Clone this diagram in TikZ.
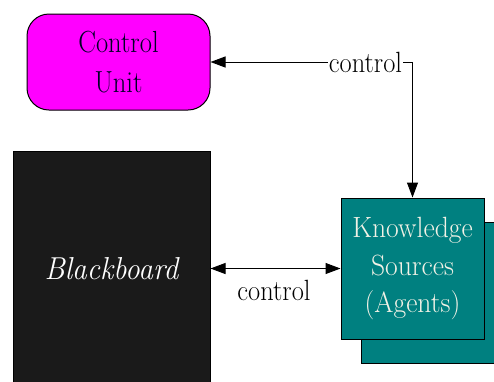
\documentclass[tikz,border=0pt]{standalone}
\usetikzlibrary{arrows.meta}
\definecolor{cumag}{HTML}{FF00FF}
\definecolor{ksteal}{HTML}{008080}
\definecolor{bbdark}{HTML}{1A1A1A}
\definecolor{kstext}{HTML}{F2F2E6}
\newcommand{\tl}[2][1]{\scalebox{#1}[1.22]{#2}}
\tikzset{
  boxline/.style={draw=black, line width=1pt},
  tip/.style={-{Triangle[length=15pt,width=11pt]}},
  dtip/.style={{Triangle[length=15pt,width=11pt]}-{Triangle[length=15pt,width=11pt]}},
  conn/.style={line width=1pt, draw=black},
  lbl/.style={font=\fontsize{24}{28}\selectfont, inner sep=1pt},
}
\begin{document}
\begin{tikzpicture}[x=1pt,y=-1pt]
\clip (0,0) rectangle (494,381);
\fill[white] (0,0) rectangle (494,381);
% Control Unit
\node[boxline, fill=cumag, rounded corners=22pt, minimum width=183pt, minimum height=96pt,
      align=center, text=black!85!blue, font=\fontsize{25}{40}\selectfont, inner sep=0pt]
  (CU) at (118.5,62) {\tl[1.06]{Control}\\\tl[1.06]{Unit}};
% Blackboard
\node[boxline, fill=bbdark, minimum width=197pt, minimum height=236pt, inner sep=0pt,
      text=white, font=\fontsize{26}{32}\selectfont\itshape]
  (BB) at (111.5,269) {\tl[1.13]{Blackboard}};
% Knowledge sources shadow and front
\node[boxline, fill=ksteal, minimum width=143pt, minimum height=141pt, inner sep=0pt]
  (KSshadow) at (432.5,292.5) {};
\node[boxline, fill=ksteal, minimum width=143pt, minimum height=141pt, inner sep=0pt,
      align=center, text=kstext, font=\fontsize{24}{37.5}\selectfont]
  (KS) at (412.5,268.5) {\tl[1.15]{Knowledge}\\\tl[1.15]{Sources}\\\tl[1.15]{(Agents)}};
% top control label and connector
\node[lbl] (L1) at (365.5,62) {\tl[1.1]{control}};
\draw[conn, tip] (L1.west) -- (CU.east);
\draw[conn, tip] (L1.east) -| (KS.north);
% blackboard <-> knowledge sources
\draw[conn, dtip] (BB.east |- KS.west) -- (KS.west);
\node[lbl] (L2) at (274,290) {\tl[1.1]{control}};
\end{tikzpicture}
\end{document}
